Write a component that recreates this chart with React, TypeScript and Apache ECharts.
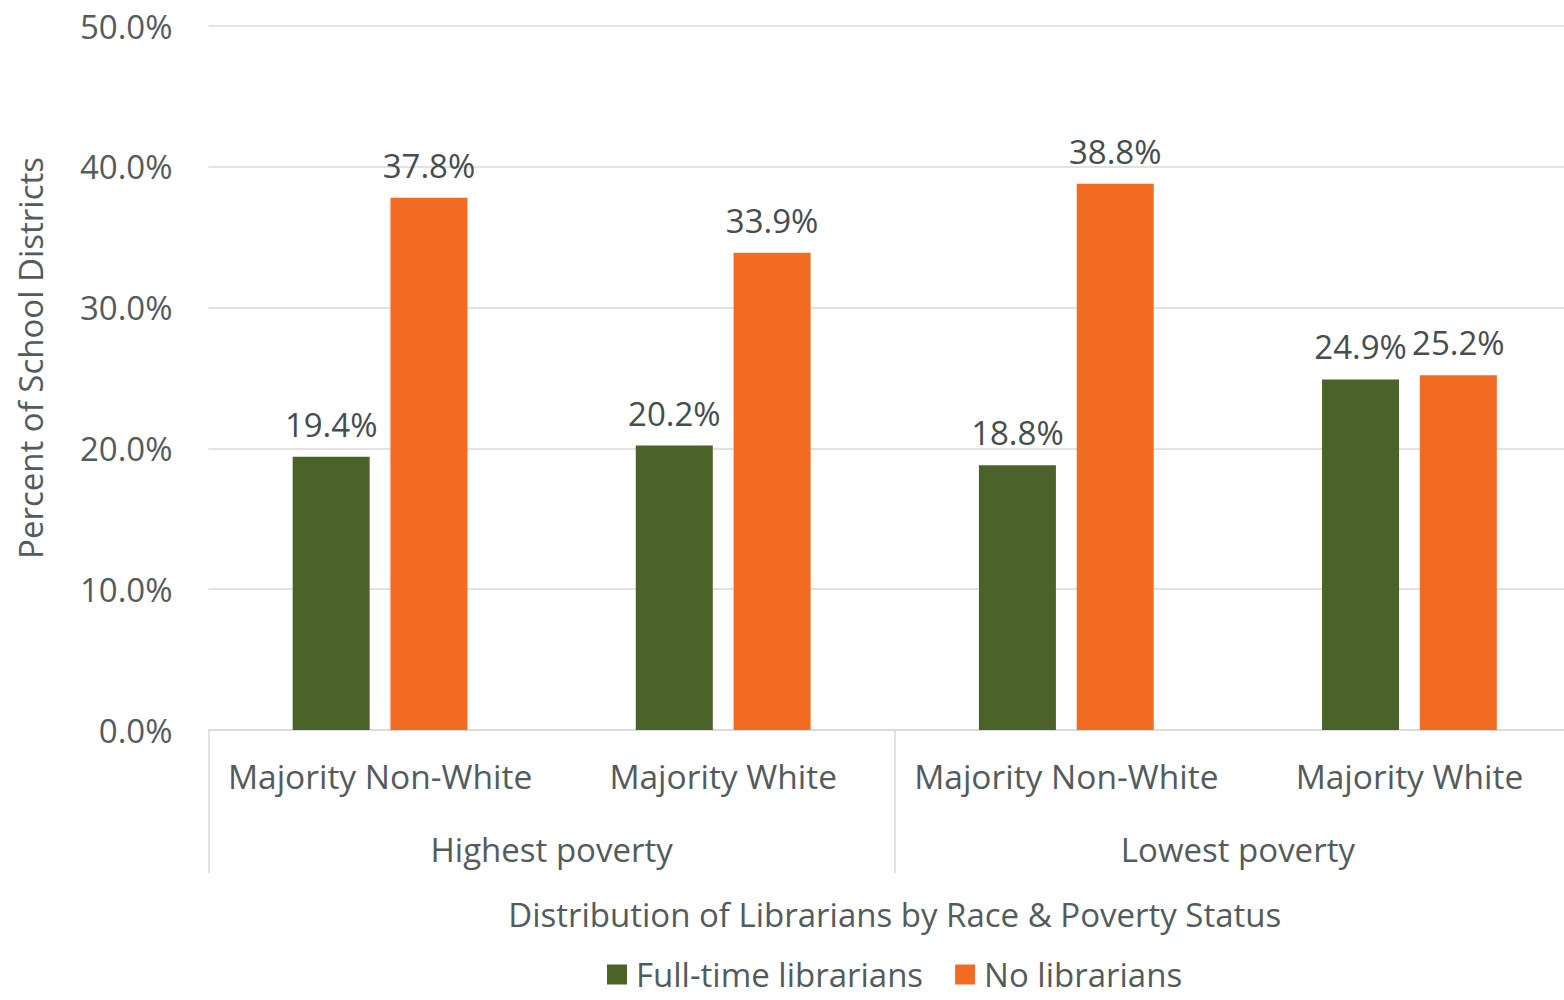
import React, { useEffect, useRef } from "react";
import * as echarts from "echarts";

const categories = ["Majority Non-White", "Majority White", "Majority Non-White", "Majority White"];
const groups = ["Highest poverty", "Lowest poverty"];
const fullTime = [19.4, 20.2, 18.8, 24.9];
const noLibrarians = [37.8, 33.9, 38.8, 25.2];
const seriesNames = ["Full-time librarians", "No librarians"];

const FONT = "Open Sans";
const TEXT = "#535b5d";
const LINE = "#d9d9d9";

export default function App() {
  const ref = useRef<HTMLDivElement>(null);
  useEffect(() => {
    const chart = echarts.init(ref.current!, null, { renderer: "svg" });
    const fs = 33;
    chart.setOption({
      animation: false,
      backgroundColor: "#ffffff",
      textStyle: { fontFamily: FONT },
      grid: { left: 208.5, right: 0, top: 26, height: 704, containLabel: false },
      legend: {
        data: seriesNames,
        top: 958,
        left: 607,
        padding: 0,
        itemWidth: 20,
        itemHeight: 20,
        itemGap: 32,
        icon: "rect",
        textStyle: { fontSize: 33, color: TEXT, fontFamily: FONT, padding: [0, 0, 0, 4] },
      },
      graphic: [
        {
          type: "text",
          x: 30,
          y: 358,
          rotation: Math.PI / 2,
          style: {
            text: "Percent of School Districts",
            fontSize: 33,
            fontFamily: FONT,
            fill: TEXT,
            align: "center",
            verticalAlign: "middle",
          },
        },
      ],
      xAxis: [
        {
          type: "category",
          data: categories,
          axisLine: { show: true, lineStyle: { color: LINE, width: 1.5 } },
          axisTick: { show: false },
          axisLabel: { fontSize: 33.5, color: TEXT, fontFamily: FONT, margin: 29, interval: 0 },
        },
        {
          type: "category",
          data: groups,
          position: "bottom",
          axisLine: { show: false },
          axisTick: { show: true, length: 143, lineStyle: { color: LINE, width: 1.5 } },
          axisLabel: { fontSize: fs, color: TEXT, fontFamily: FONT, margin: 103, interval: 0 },
          name: "Distribution of Librarians by Race & Poverty Status",
          nameLocation: "middle",
          nameGap: 168,
          nameTextStyle: { fontSize: fs, color: TEXT, fontFamily: FONT },
        },
      ],
      yAxis: {
        type: "value",
        min: 0,
        max: 50,
        interval: 10,
        axisLine: { show: false },
        axisTick: { show: false },
        splitLine: { lineStyle: { color: LINE, width: 1.5 } },
        axisLabel: {
          fontSize: fs,
          color: TEXT,
          fontFamily: FONT,
          margin: 36,
          formatter: (v: number) => v.toFixed(1) + "%",
        },
      },
      series: [
        {
          name: seriesNames[0],
          type: "bar",
          data: fullTime,
          barWidth: 77,
          barGap: "27%",
          itemStyle: { color: "#4b6229" },
          label: {
            show: true,
            position: "top",
            distance: 16,
            fontSize: fs,
            color: "#454d4f",
            fontFamily: FONT,
            formatter: (p: any) => p.value.toFixed(1) + "%",
          },
        },
        {
          name: seriesNames[1],
          type: "bar",
          data: noLibrarians,
          barWidth: 77,
          barGap: "27%",
          itemStyle: { color: "#f26b22" },
          label: {
            show: true,
            position: "top",
            distance: 16,
            fontSize: fs,
            color: "#454d4f",
            fontFamily: FONT,
            formatter: (p: any) => p.value.toFixed(1) + "%",
          },
        },
      ],
    });
    return () => chart.dispose();
  }, []);
  return (
    <div style={{ position: "fixed", left: 0, top: 0, width: 1564, height: 1000, background: "#fff", overflow: "hidden" }}>
      <div ref={ref} style={{ position: "absolute", left: 0, top: 0, width: 1580.5, height: 1000 }} />
    </div>
  );
}
